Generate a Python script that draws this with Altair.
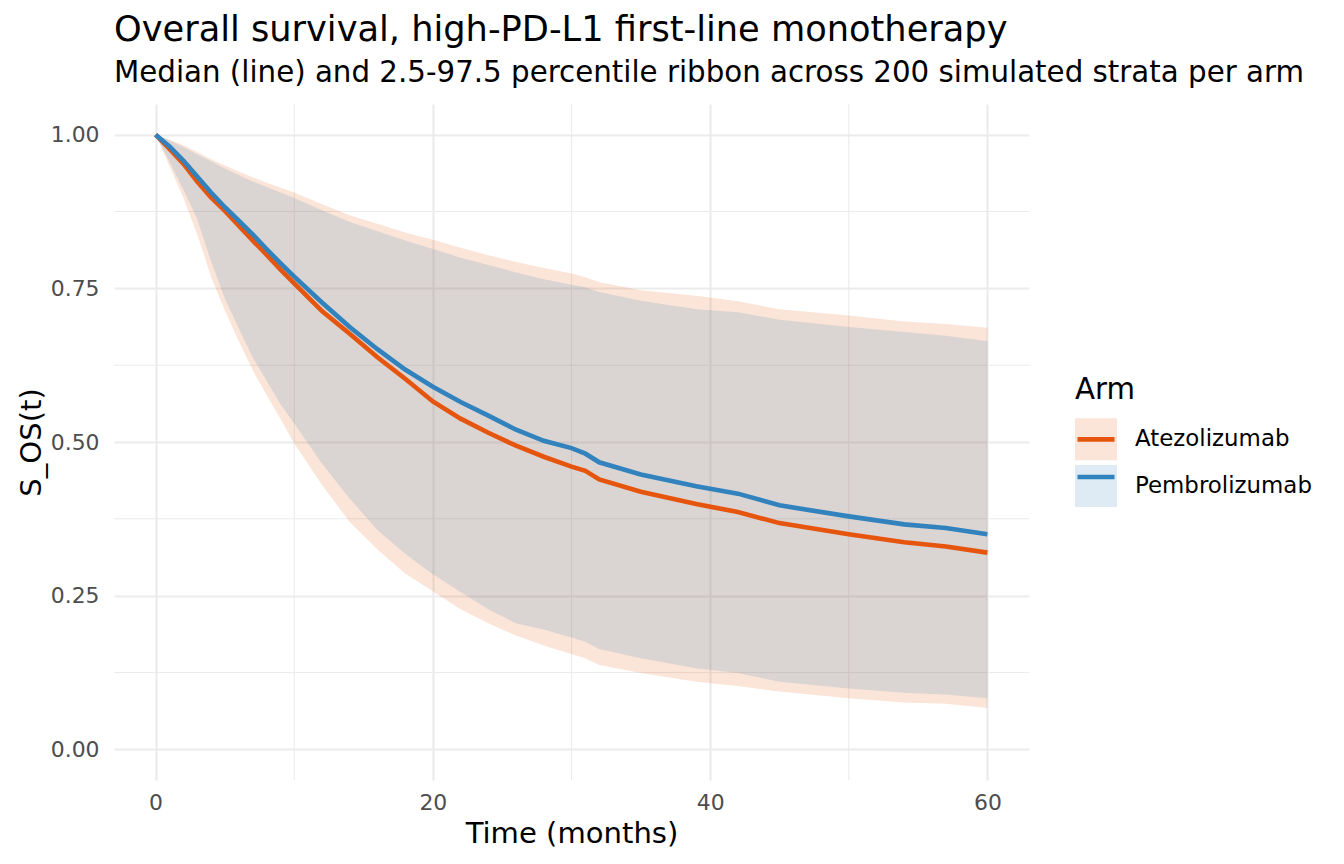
import altair as alt
import pandas as pd

# ---- data ----
time = [0, 1, 2, 3, 4, 5, 6, 7, 8, 9, 10, 12, 14, 16, 18, 20, 22, 24, 26, 28,
        30, 31, 32, 35, 39, 42, 45, 50, 54, 57, 60]

atezo_med = [1.0, 0.977, 0.953, 0.924, 0.898, 0.876, 0.852, 0.828, 0.805, 0.781, 0.758,
             0.713, 0.676, 0.638, 0.603, 0.566, 0.538, 0.515, 0.494, 0.476,
             0.460, 0.453, 0.439, 0.419, 0.399, 0.386, 0.368, 0.350, 0.337, 0.330, 0.320]
atezo_lo = [1.0, 0.949, 0.898, 0.838, 0.769, 0.714, 0.664, 0.617, 0.577, 0.538, 0.498,
            0.430, 0.370, 0.325, 0.286, 0.257, 0.228, 0.205, 0.185, 0.169,
            0.155, 0.148, 0.137, 0.124, 0.110, 0.103, 0.094, 0.083, 0.076, 0.074, 0.067]
atezo_hi = [1.0, 0.992, 0.983, 0.972, 0.960, 0.950, 0.940, 0.931, 0.922, 0.914, 0.906,
            0.887, 0.869, 0.855, 0.841, 0.829, 0.816, 0.804, 0.793, 0.783,
            0.774, 0.768, 0.760, 0.747, 0.738, 0.729, 0.716, 0.706, 0.696, 0.692, 0.686]

pembro_med = [1.0, 0.981, 0.958, 0.932, 0.906, 0.882, 0.860, 0.838, 0.814, 0.791, 0.769,
              0.727, 0.687, 0.651, 0.618, 0.590, 0.565, 0.543, 0.520, 0.502,
              0.490, 0.481, 0.467, 0.447, 0.428, 0.416, 0.397, 0.379, 0.366, 0.360, 0.350]
pembro_lo = [1.0, 0.956, 0.911, 0.863, 0.794, 0.733, 0.685, 0.638, 0.600, 0.562, 0.530,
             0.465, 0.408, 0.357, 0.318, 0.285, 0.256, 0.228, 0.205, 0.195,
             0.182, 0.175, 0.163, 0.148, 0.132, 0.124, 0.110, 0.099, 0.092, 0.089, 0.083]
pembro_hi = [1.0, 0.991, 0.980, 0.968, 0.957, 0.945, 0.934, 0.924, 0.915, 0.906, 0.897,
             0.877, 0.858, 0.843, 0.828, 0.814, 0.800, 0.788, 0.776, 0.765,
             0.756, 0.752, 0.744, 0.730, 0.716, 0.711, 0.699, 0.687, 0.679, 0.673, 0.664]

arms = ["Atezolizumab", "Pembrolizumab"]
arm_colors = ["#E6550D", "#3182BD"]

x_major = [0, 20, 40, 60]
x_minor = [10, 30, 50]
y_major = [0.0, 0.25, 0.5, 0.75, 1.0]
y_minor = [0.125, 0.375, 0.625, 0.875]

# ---- build table ----
rows = []
for arm, med, lo, hi in [("Atezolizumab", atezo_med, atezo_lo, atezo_hi),
                         ("Pembrolizumab", pembro_med, pembro_lo, pembro_hi)]:
    for t, m, l, h in zip(time, med, lo, hi):
        rows.append({"time": t, "arm": arm, "med": m, "lo": l, "hi": h})
df = pd.DataFrame(rows)

FONT = "DejaVu Sans"
W, H = 915, 676

xscale = alt.Scale(domain=[-3, 63], nice=False, zero=False)
yscale = alt.Scale(domain=[-0.05, 1.05], nice=False, zero=False)

xaxis = alt.Axis(values=x_major, format="d", title="Time (months)", grid=True,
                 labelPadding=12.4, titlePadding=5.8)
yaxis = alt.Axis(values=y_major, format=".2f", title="S_OS(t)", grid=True,
                 labelPadding=15, titlePadding=4)

minor_x = alt.Chart(pd.DataFrame({"v": x_minor})).mark_rule(
    color="#EBEBEB", strokeWidth=1.1).encode(
    x=alt.X("v:Q", scale=xscale, axis=xaxis))
minor_y = alt.Chart(pd.DataFrame({"v": y_minor})).mark_rule(
    color="#EBEBEB", strokeWidth=1.1).encode(
    y=alt.Y("v:Q", scale=yscale, axis=yaxis))

LEG_X = 961
LEG_Y = 272

common_leg = dict(orient="none", legendX=LEG_X, legendY=LEG_Y,
                  titleFontSize=29.3, titleFont=FONT, titleFontWeight="normal",
                  titleColor="#000000", titlePadding=13,
                  labelFontSize=22.9, labelFont=FONT, labelColor="#000000",
                  labelLimit=400, titleLimit=400,
                  labelOffset=18, rowPadding=4.7, symbolOffset=0, padding=0)

ribbon = alt.Chart(df).mark_area(opacity=0.16, interpolate="linear").encode(
    x=alt.X("time:Q", scale=xscale, axis=xaxis),
    y=alt.Y("lo:Q", scale=yscale, axis=yaxis),
    y2="hi:Q",
    color=alt.Color("arm:N", scale=alt.Scale(domain=arms, range=arm_colors),
                    legend=alt.Legend(title="Arm", symbolType="square", symbolSize=1764,
                                      symbolStrokeWidth=0, symbolOpacity=0.16,
                                      **common_leg)),
    order=alt.Order("arm:N"),
)

# second legend (line keys) drawn exactly on top of the first one
lines = alt.Chart(df).mark_line(strokeWidth=4.6, interpolate="linear").encode(
    x=alt.X("time:Q", scale=xscale, axis=xaxis),
    y=alt.Y("med:Q", scale=yscale, axis=yaxis),
    color=alt.Color("arm:N", scale=alt.Scale(domain=arms, range=arm_colors),
                    legend=alt.Legend(title=" ", symbolType="stroke", symbolSize=1369,
                                      symbolStrokeWidth=4.7, symbolOpacity=1,
                                      labelExpr="''", titleOpacity=0,
                                      **common_leg)),
)

chart = alt.layer(minor_x, minor_y, ribbon, lines).resolve_scale(
    color="independent"
).properties(
    width=W, height=H,
    title=alt.TitleParams(
        text="Overall survival, high-PD-L1 first-line monotherapy",
        subtitle="Median (line) and 2.5-97.5 percentile ribbon across 200 simulated strata per arm",
        anchor="start", frame="group", font=FONT, fontSize=35.2,
        fontWeight="normal", color="#000000",
        subtitleFont=FONT, subtitleFontSize=29.3, subtitleColor="#000000",
        subtitlePadding=11, offset=15),
    autosize=alt.AutoSizeParams(type="none"),
    padding={"left": 106, "top": 96, "right": 300, "bottom": 70},
).configure_view(stroke=None).configure_axis(
    domain=False, ticks=False, gridColor="#EBEBEB", gridWidth=2.1,
    labelFont=FONT, labelFontSize=21.9, labelColor="#4D4D4D",
    titleFont=FONT, titleFontSize=29.1, titleFontWeight="normal",
    titleColor="#000000",
)

chart.save("out.html", embed_options={"renderer": "svg", "actions": False})
